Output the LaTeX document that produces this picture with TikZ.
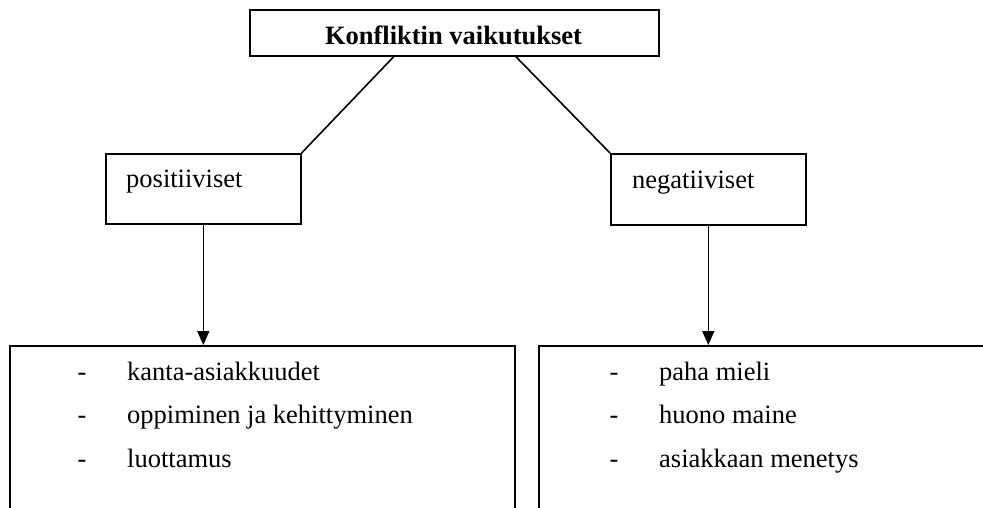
\documentclass[tikz,border=0pt]{standalone}
\usepackage{fontspec}
\setmainfont{Liberation Serif}
\usetikzlibrary{arrows.meta}
\begin{document}
\begin{tikzpicture}[x=1pt,y=-1pt,
  box/.style={draw, line width=1.6pt, inner sep=0pt},
  txt/.style={font=\fontsize{26.5}{30}\selectfont, inner sep=0pt},
  conn/.style={line width=1.6pt},
  arr/.style={line width=1.6pt, -{Triangle[width=12pt,length=14pt]}}]
\clip (0,0) rectangle (983,508);
\fill[white] (0,0) rectangle (983,508);
% top box
\node[box, minimum width=409pt, minimum height=46pt, anchor=north west] (title) at (249,9) {};
\node[txt, font=\fontsize{26.5}{30}\selectfont\bfseries, anchor=base] (titlet) at (453.5,45) {Konfliktin vaikutukset};
% middle boxes
\node[box, minimum width=195pt, minimum height=70pt, anchor=north west] (pos) at (105,153) {};
\node[txt, anchor=base west] (post) at (126,187) {positiiviset};
\node[box, minimum width=195pt, minimum height=71pt, anchor=north west] (neg) at (610,153) {};
\node[txt, anchor=base west] (negt) at (632,189) {negatiiviset};
% bottom boxes (cut off by the page edge)
\node[box, minimum width=505pt, minimum height=200pt, anchor=north west] (posl) at (9,345) {};
\node[box, minimum width=520pt, minimum height=200pt, anchor=north west] (negl) at (538,345) {};
% connectors
\draw[conn] ([xshift=-60.5pt]title.south) -- (pos.north east);
\draw[conn] ([xshift=61.5pt]title.south) -- (neg.north west);
\draw[arr] (pos.south) -- (pos.south |- posl.north);
\draw[arr] (neg.south) -- (neg.south |- negl.north);
% list texts
\node[txt, anchor=base] (pd1) at (82,380) {-};
\node[txt, anchor=base west] (pl1) at (127,380) {kanta-asiakkuudet};
\node[txt, anchor=base] (pd2) at (82,423) {-};
\node[txt, anchor=base west] (pl2) at (127,423) {oppiminen ja kehittyminen};
\node[txt, anchor=base] (pd3) at (82,467) {-};
\node[txt, anchor=base west] (pl3) at (127,467) {luottamus};
\node[txt, anchor=base] (nd1) at (614,380) {-};
\node[txt, anchor=base west] (nl1) at (659,380) {paha mieli};
\node[txt, anchor=base] (nd2) at (614,423) {-};
\node[txt, anchor=base west] (nl2) at (659,423) {huono maine};
\node[txt, anchor=base] (nd3) at (614,467) {-};
\node[txt, anchor=base west] (nl3) at (659,467) {asiakkaan menetys};
\end{tikzpicture}
\end{document}
